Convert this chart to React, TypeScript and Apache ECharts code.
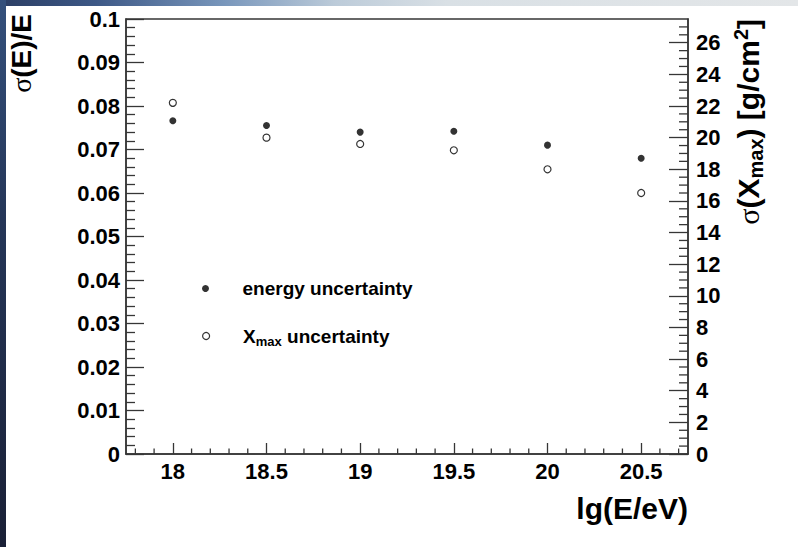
import { useEffect, useRef } from "react";
import * as echarts from "echarts";

// lg(E/eV) bin centres
const energyBins = [18, 18.5, 19, 19.5, 20, 20.5];
// relative energy resolution σ(E)/E
const energyResolution = [0.0766, 0.0755, 0.074, 0.0742, 0.071, 0.068];
// Xmax resolution in g/cm²
const xmaxResolution = [22.2, 20.0, 19.6, 19.2, 18.0, 16.5];

const xRange = [17.75, 20.75];
const leftRange = [0, 0.1];
const rightRange = [0, 27.5];

// minor tick values (ROOT-style divisions)
const xMinorTicks = [
  17.8, 17.9, 18.1, 18.2, 18.3, 18.4, 18.6, 18.7, 18.8, 18.9, 19.1, 19.2, 19.3,
  19.4, 19.6, 19.7, 19.8, 19.9, 20.1, 20.2, 20.3, 20.4, 20.6, 20.7,
];
const rightMinorTicks = [
  0.5, 1, 1.5, 2.5, 3, 3.5, 4.5, 5, 5.5, 6.5, 7, 7.5, 8.5, 9, 9.5, 10.5, 11,
  11.5, 12.5, 13, 13.5, 14.5, 15, 15.5, 16.5, 17, 17.5, 18.5, 19, 19.5, 20.5,
  21, 21.5, 22.5, 23, 23.5, 24.5, 25, 25.5, 26.5, 27,
];

const FONT = "'Liberation Sans', Arial, Helvetica, sans-serif";
const SERIF = "'Liberation Serif', 'DejaVu Serif', serif";
const INK = "#363636";

const tickSeries = (
  values: number[][],
  yAxisIndex: number,
  dx: number,
  dy: number
) => ({
  type: "custom",
  yAxisIndex,
  silent: true,
  clip: false,
  data: values,
  renderItem: (_params: any, api: any) => {
    const p = api.coord([api.value(0), api.value(1)]);
    return {
      type: "line",
      shape: { x1: p[0], y1: p[1], x2: p[0] + dx, y2: p[1] + dy },
      style: { stroke: INK, lineWidth: 1.3 },
    };
  },
});

const labelStyle = {
  fontFamily: FONT,
  fontWeight: "bold" as const,
  fontSize: 22,
  color: "#000",
};

export default function App() {
  const ref = useRef<HTMLDivElement>(null);

  useEffect(() => {
    if (!ref.current) return;
    const chart = echarts.init(ref.current, undefined, { renderer: "svg" });

    const titleRich = (size: number) => ({
      s: { fontFamily: SERIF, fontWeight: "normal", fontSize: size, fill: "#000" },
      b: { fontFamily: FONT, fontWeight: "bold", fontSize: size, fill: "#000" },
      sub: {
        fontFamily: FONT,
        fontWeight: "bold",
        fontSize: Math.round(size * 0.68),
        fill: "#000",
        padding: [16, 0, 0, 0],
      },
      sup: {
        fontFamily: FONT,
        fontWeight: "bold",
        fontSize: Math.round(size * 0.68),
        fill: "#000",
        padding: [0, 0, 14, 0],
      },
    });

    chart.setOption({
      animation: false,
      backgroundColor: "#fff",
      grid: {
        left: 126,
        top: 19,
        width: 562,
        height: 435,
        show: true,
        borderColor: INK,
        borderWidth: 1.5,
        backgroundColor: "transparent",
      },
      xAxis: {
        type: "value",
        min: xRange[0],
        max: xRange[1],
        splitNumber: 6,
        axisLine: { lineStyle: { color: INK, width: 1.5 } },
        axisTick: { inside: true, length: 11, lineStyle: { color: INK, width: 1.3 } },
        splitLine: { show: false },
        axisLabel: {
          ...labelStyle,
          margin: 6,
          showMinLabel: false,
          showMaxLabel: false,
        },
      },
      yAxis: [
        {
          type: "value",
          position: "left",
          min: leftRange[0],
          max: leftRange[1],
          interval: 0.01,
          axisLine: { show: true, lineStyle: { color: INK, width: 1.5 } },
          axisTick: { show: true, inside: true, length: 18, lineStyle: { color: INK, width: 1.3 } },
          minorTick: { show: true, splitNumber: 5, length: 9, lineStyle: { color: INK, width: 1.3 } },
          splitLine: { show: false },
          axisLabel: {
            ...labelStyle,
            margin: 6,
            formatter: (v: number) => String(+v.toFixed(2)),
          },
        },
        {
          type: "value",
          position: "right",
          min: rightRange[0],
          max: rightRange[1],
          interval: 2,
          axisLine: { show: true, lineStyle: { color: INK, width: 1.5 } },
          axisTick: { show: true, inside: true, length: 19, lineStyle: { color: INK, width: 1.3 } },
          splitLine: { show: false },
          axisLabel: { ...labelStyle, margin: 8, showMaxLabel: false },
        },
      ],
      legend: [
        {
          data: [{ name: "energy uncertainty", icon: "circle" }],
          left: 202,
          top: 279,
          padding: 0,
          itemWidth: 64,
          itemHeight: 7,
          selectedMode: false,
          textStyle: { fontFamily: FONT, fontWeight: "bold", fontSize: 19, color: "#000" },
        },
        {
          data: [
            {
              name: "Xmax uncertainty",
              icon: "circle",
              itemStyle: { color: "#fff", borderColor: "#000", borderWidth: 1.2 },
            },
          ],
          left: 202,
          top: 326.5,
          padding: 0,
          itemWidth: 64,
          itemHeight: 7,
          selectedMode: false,
          formatter: () => "{b|X}{sub|max}{b| uncertainty}",
          textStyle: {
            fontFamily: FONT,
            fontWeight: "bold",
            fontSize: 19,
            color: "#000",
            rich: {
              b: { fontFamily: FONT, fontWeight: "bold", fontSize: 19, color: "#000" },
              sub: {
                fontFamily: FONT,
                fontWeight: "bold",
                fontSize: 13,
                color: "#000",
                padding: [10, 0, 0, 0],
              },
            },
          },
        },
      ],
      series: [
        {
          name: "energy uncertainty",
          type: "scatter",
          yAxisIndex: 0,
          symbol: "circle",
          symbolSize: 7,
          itemStyle: { color: "#000" },
          data: energyBins.map((x, i) => [x, energyResolution[i]]),
        },
        {
          name: "Xmax uncertainty",
          type: "scatter",
          yAxisIndex: 1,
          symbol: "circle",
          symbolSize: 7,
          itemStyle: { color: "#fff", borderColor: "#000", borderWidth: 1.2 },
          data: energyBins.map((x, i) => [x, xmaxResolution[i]]),
        },
        tickSeries(xMinorTicks.map((v) => [v, leftRange[0]]), 0, 0, -5.5),
        tickSeries(rightMinorTicks.map((v) => [xRange[1], v]), 1, -9, 0),
      ],
      graphic: [
        {
          type: "rect",
          silent: true,
          shape: { x: 0, y: 0, width: 798, height: 6 },
          style: {
            fill: {
              type: "linear",
              x: 0,
              y: 0,
              x2: 1,
              y2: 0,
              colorStops: [
                { offset: 0, color: "#2b3e64" },
                { offset: 0.12, color: "#3d5886" },
                { offset: 0.28, color: "#7896bb" },
                { offset: 0.42, color: "#bccbd9" },
                { offset: 0.56, color: "#d9e0e5" },
                { offset: 1, color: "#e3e6e8" },
              ],
            },
          },
        },
        {
          type: "rect",
          silent: true,
          shape: { x: 0, y: 0, width: 6, height: 547 },
          style: {
            fill: {
              type: "linear",
              x: 0,
              y: 0,
              x2: 0,
              y2: 1,
              colorStops: [
                { offset: 0, color: "#34507c" },
                { offset: 0.4, color: "#253658" },
                { offset: 1, color: "#1a2036" },
              ],
            },
          },
        },
        {
          type: "text",
          x: 21,
          y: 14,
          rotation: Math.PI / 2,
          style: {
            text: "{s|σ}{b|(E)/E}",
            align: "right",
            verticalAlign: "middle",
            rich: titleRich(28),
          },
        },
        {
          type: "text",
          x: 748,
          y: 19,
          rotation: Math.PI / 2,
          style: {
            text: "{s|σ}{b|(X}{sub|max}{b|) [g/cm}{sup|2}{b|]}",
            align: "right",
            verticalAlign: "middle",
            rich: titleRich(30),
          },
        },
        {
          type: "text",
          x: 688,
          y: 508,
          style: {
            text: "lg(E/eV)",
            align: "right",
            verticalAlign: "middle",
            fontFamily: FONT,
            fontWeight: "bold",
            fontSize: 30,
            fill: "#000",
          },
        },
      ],
    });

    return () => chart.dispose();
  }, []);

  return (
    <div
      ref={ref}
      style={{
        position: "fixed",
        left: 0,
        top: 0,
        width: 798,
        height: 547,
        background: "#fff",
      }}
    />
  );
}
